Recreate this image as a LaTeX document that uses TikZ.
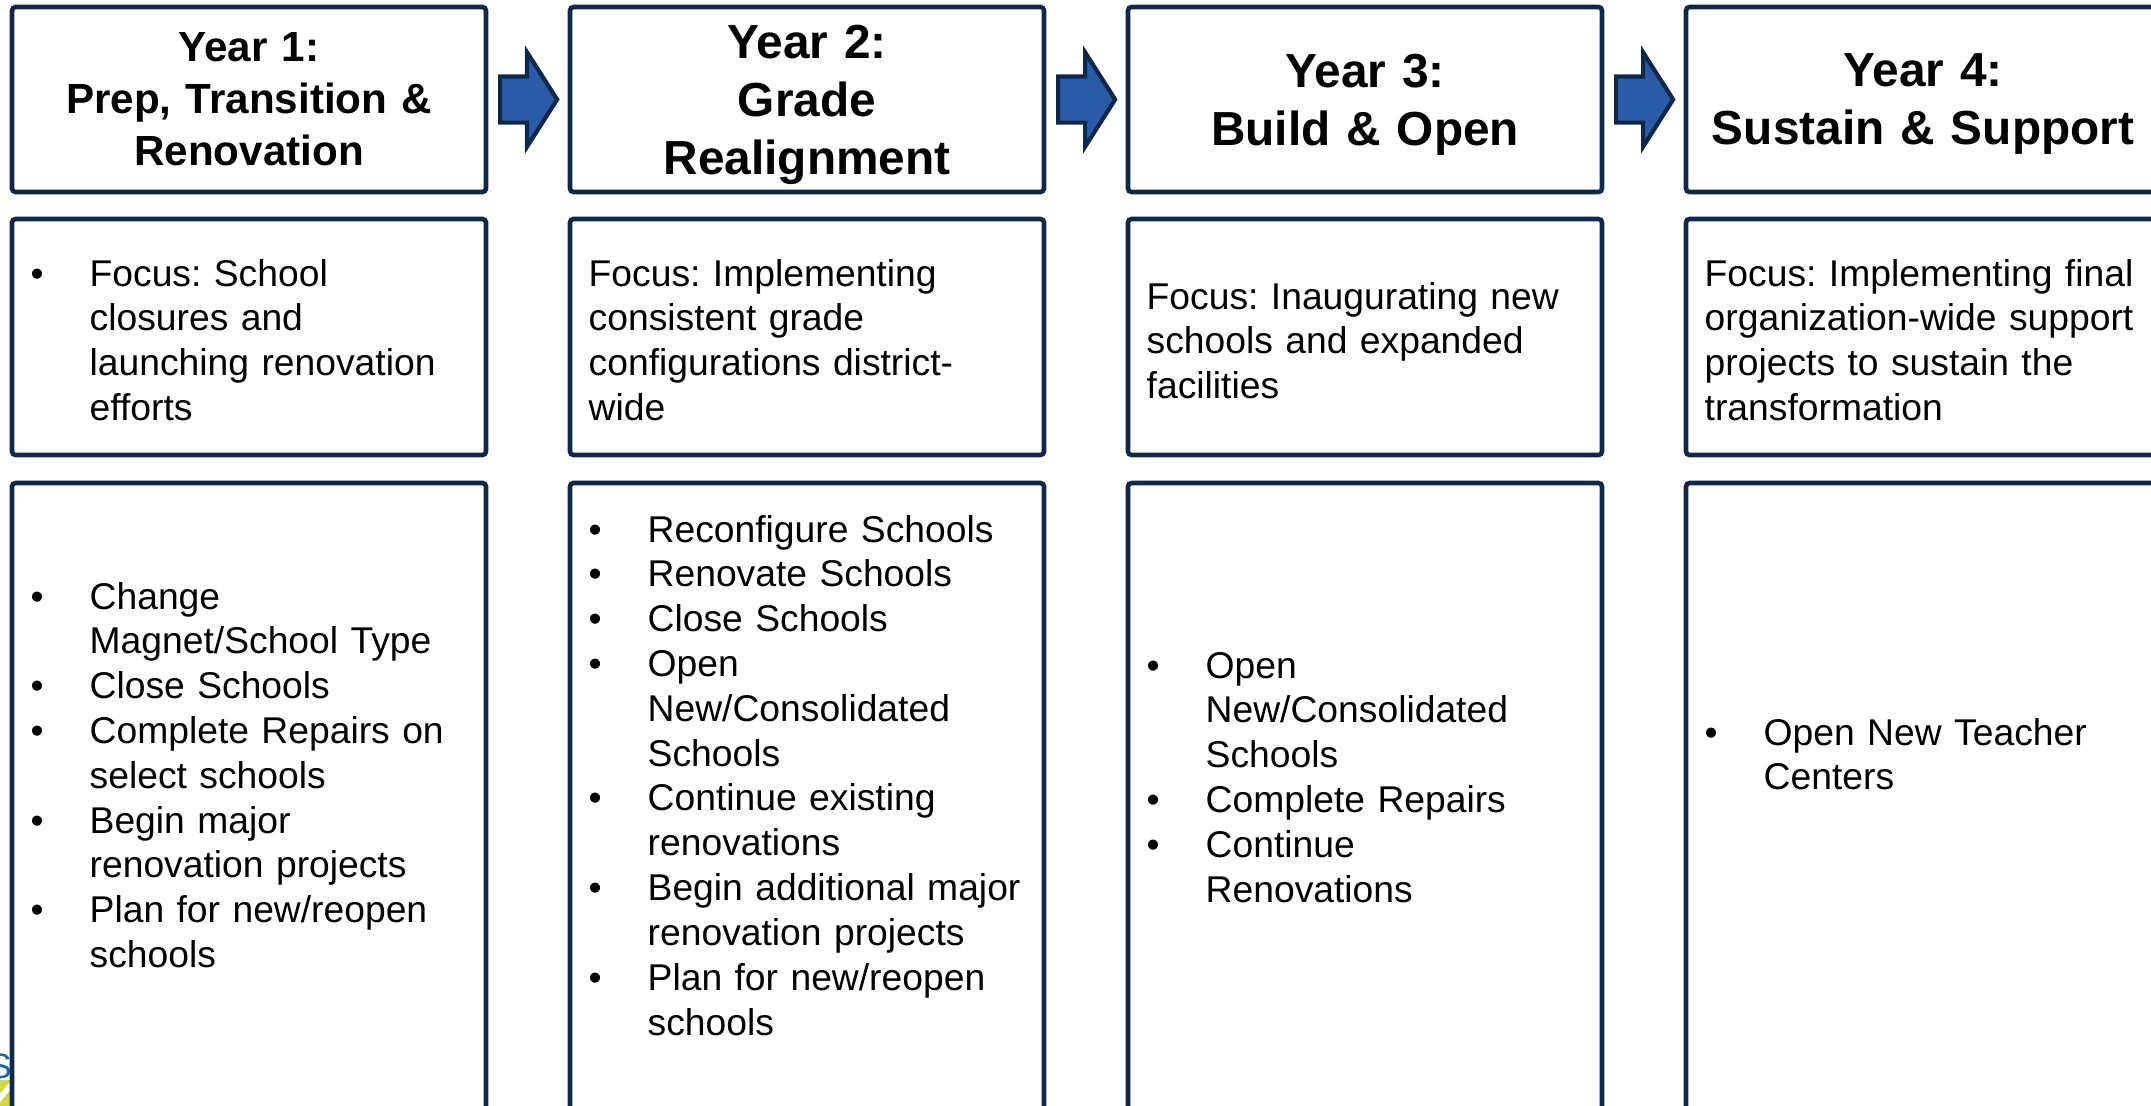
\documentclass[tikz,border=0pt]{standalone}
\usepackage{fontspec}
\setmainfont{Liberation Sans}
\usetikzlibrary{positioning,shapes.arrows}
\definecolor{navy}{HTML}{0F284A}
\definecolor{arrblue}{HTML}{2A5BA8}
\definecolor{logoblue}{HTML}{1565B0}
\definecolor{logogreen}{HTML}{D2D64A}
\frenchspacing
\newcommand{\bl}{\makebox[0.59cm][l]{\textbullet}}
\newcommand{\ind}{\hspace*{0.59cm}}
\tikzset{
  panel/.style    = {rectangle, draw=navy, line width=1.3pt, fill=white, rounded corners=1pt, minimum width=4.74cm, inner sep=0, outer sep=0},
  yearbox/.style  = {panel, minimum height=1.85cm, text width=4.6cm, align=center, font=\bfseries\fontsize{13.6}{16.5}\selectfont},
  focusbox/.style = {panel, minimum height=2.36cm},
  workbox/.style  = {panel, minimum height=7cm},
  txt/.style      = {anchor=north west, inner sep=0, text width=4.5cm, align=left, font=\fontsize{10.6}{12.75}\selectfont, execute at begin node=\strut},
  fwd/.style      = {single arrow, draw=navy, line width=1.2pt, fill=arrblue, inner xsep=0, inner ysep=0.21cm, minimum height=0.57cm, single arrow head extend=0.24cm, single arrow tip angle=115, anchor=tail}
}

\begin{document}
\begin{tikzpicture}
  \useasboundingbox (0,0) rectangle (21.51,-11.05);
  \clip (0,0) rectangle (21.51,-11.05);
  % logo peeking out behind the first column
  \node[text=logoblue, font=\fontsize{10}{12}\selectfont, inner sep=0, anchor=base] (logo) at (0.0,-10.78) {S};
  \fill[logogreen] (-0.05,-10.80) rectangle (0.15,-11.10);
  \draw[white, line width=1.5pt] (-0.02,-11.0) -- (0.12,-10.84);

  \node[yearbox, font=\bfseries\fontsize{12}{14.8}\selectfont] (y1) at (2.49,-0.995) {Year 1:\\Prep, Transition \&\\Renovation};
  \node[yearbox, right=0.84cm of y1] (y2) {Year 2:\\Grade\\\smash{Realignment}};
  \node[yearbox, right=0.84cm of y2] (y3) {Year 3:\\\smash{Build \& Open}};
  \node[yearbox, right=0.84cm of y3] (y4) {Year 4:\\\smash{Sustain \& Support}};
  \node[fwd] (a12) at ([xshift=0.12cm]y1.east) {};
  \node[fwd] (a23) at ([xshift=0.12cm]y2.east) {};
  \node[fwd] (a34) at ([xshift=0.12cm]y3.east) {};

  \node[focusbox, below=0.27cm of y1] (f1) {};
  \node[focusbox, below=0.27cm of y2] (f2) {};
  \node[focusbox, below=0.27cm of y3] (f3) {};
  \node[focusbox, below=0.27cm of y4] (f4) {};
  \node[txt] (ft1) at ([xshift=0.18cm,yshift=-0.35cm]f1.north west) {\bl Focus: School\\\ind closures and\\\ind launching renovation\\\ind efforts};
  \node[txt] (ft2) at ([xshift=0.18cm,yshift=-0.35cm]f2.north west) {Focus: Implementing\\consistent grade\\configurations district-\\wide};
  \node[txt] (ft3) at ([xshift=0.18cm,yshift=-0.58cm]f3.north west) {Focus: Inaugurating new\\schools and expanded\\facilities};
  \node[txt] (ft4) at ([xshift=0.18cm,yshift=-0.35cm]f4.north west) {Focus: Implementing final\\organization-wide support\\projects to sustain the\\transformation};

  \node[workbox, below=0.28cm of f1] (w1) {};
  \node[workbox, below=0.28cm of f2] (w2) {};
  \node[workbox, below=0.28cm of f3] (w3) {};
  \node[workbox, below=0.28cm of f4] (w4) {};
  \node[txt] (wt1) at ([xshift=0.18cm,yshift=-0.94cm]w1.north west) {\bl Change\\\ind Magnet/School Type\\\bl Close Schools\\\bl Complete Repairs on\\\ind select schools\\\bl Begin major\\\ind renovation projects\\\bl Plan for new/reopen\\\ind schools};
  \node[txt] (wt2) at ([xshift=0.18cm,yshift=-0.27cm]w2.north west) {\bl Reconfigure Schools\\\bl Renovate Schools\\\bl Close Schools\\\bl Open\\\ind New/Consolidated\\\ind Schools\\\bl Continue existing\\\ind renovations\\\bl Begin additional major\\\ind renovation projects\\\bl Plan for new/reopen\\\ind schools};
  \node[txt] (wt3) at ([xshift=0.18cm,yshift=-1.63cm]w3.north west) {\bl Open\\\ind New/Consolidated\\\ind Schools\\\bl Complete Repairs\\\bl Continue\\\ind Renovations};
  \node[txt] (wt4) at ([xshift=0.18cm,yshift=-2.30cm]w4.north west) {\bl Open New Teacher\\\ind Centers};
\end{tikzpicture}
\end{document}
